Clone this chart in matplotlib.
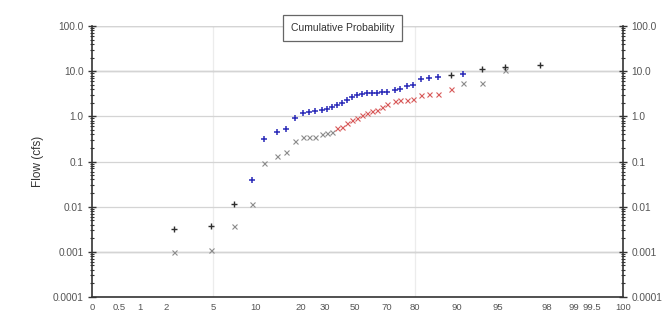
import numpy as np
import matplotlib
matplotlib.use("Agg")
import matplotlib.pyplot as plt
from matplotlib.ticker import FixedLocator, FixedFormatter, LogLocator, NullFormatter

plt.rcParams["font.family"] = ["Liberation Sans", "DejaVu Sans"]

# cumulative probability (%) tick labels and the spacing used by the original axis
tick_pct = [0, 0.5, 1, 2, 5, 10, 20, 30, 50, 70, 80, 90, 95, 98, 99, 99.5, 100]
tick_labels = ["0", "0.5", "1", "2", "5", "10", "20", "30", "50", "70",
               "80", "90", "95", "98", "99", "99.5", "100"]
scale_pos = [92, 119, 140, 166, 213, 256, 301, 325, 355, 387,
             415, 457, 498, 547, 574, 592, 623]

y_ticks = [0.0001, 0.001, 0.01, 0.1, 1, 10, 100]
y_labels = ["0.0001", "0.001", "0.01", "0.1", "1.0", "10.0", "100.0"]

# exceedance percentiles
pct = [2.5, 4.9, 7.4, 9.5, 11.8, 14.7, 16.7, 18.7, 20.8, 23.3,
       25.8, 28.8, 31.3, 34.7, 38.0, 41.3, 44.7, 48.0, 51.3, 54.4,
       57.5, 60.6, 63.8, 66.9, 70.0, 72.9, 74.6, 77.1, 79.3, 81.4,
       83.3, 85.5, 88.6, 90.7, 93.0, 95.4, 97.6]

# upper series (+)
flow_plus = [0.0032, 0.0038, 0.0115, 0.039, 0.31, 0.45, 0.52, 0.92, 1.2, 1.25,
             1.3, 1.4, 1.46, 1.6, 1.8, 1.97, 2.3, 2.7, 3.0, 3.1,
             3.3, 3.3, 3.3, 3.45, 3.45, 3.8, 4.0, 4.7, 4.9, 6.7,
             7.0, 7.4, 8.2, 8.6, 11.1, 12.4, 14.0]
plus_dark = [0, 1, 2, 32, 34, 35, 36]

# lower series (x)
flow_x = [0.001, 0.0011, 0.0038, 0.0115, 0.093, 0.133, 0.16, 0.29, 0.35, 0.35,
          0.35, 0.40, 0.43, 0.45, 0.55, 0.58, 0.72, 0.83, 0.93, 1.07,
          1.19, 1.32, 1.39, 1.6, 1.87, 2.2, 2.3, 2.3, 2.4, 3.0,
          3.1, 3.1, 4.0, 5.5, 5.5, 10.5]
x_red = list(range(14, 33))
faint_lines = [5, 80]


def forward(p):
    return np.interp(p, tick_pct, scale_pos)


def inverse(v):
    return np.interp(v, scale_pos, tick_pct)


fig = plt.figure(figsize=(6.62, 3.24), dpi=100)
ax = fig.add_axes([92 / 662, 27 / 324, 531 / 662, 271 / 324])
ax.set_xscale("function", functions=(forward, inverse))
ax.set_yscale("log")
ax.set_xlim(0, 100)
ax.set_ylim(0.0001, 100)

# grid
ax.grid(True, axis="y", which="major", color="#d4d4d4", linewidth=0.9)
for v in [100, 10, 0.001]:
    ax.axhline(v, color="#9a9a9a", linewidth=0.9, zorder=1)
for p in faint_lines:
    ax.axvline(p, color="#ececec", linewidth=0.9, zorder=0)

pct_a = np.array(pct)
fp = np.array(flow_plus)
fx = np.array(flow_x)
pct_x = pct_a[:len(fx)]

plus_mask = np.zeros(len(fp), bool)
plus_mask[plus_dark] = True
red_mask = np.zeros(len(fx), bool)
red_mask[x_red] = True

ax.plot(pct_x[~red_mask], fx[~red_mask], "x", color="#8c8c8c", ms=3.6, mew=0.8, zorder=3)
ax.plot(pct_x[red_mask], fx[red_mask], "x", color="#d85a5a", ms=3.6, mew=0.8, zorder=3)
ax.plot(pct_a[~plus_mask], fp[~plus_mask], "+", color="#2a2ab8", ms=5, mew=1.1, zorder=4)
ax.plot(pct_a[plus_mask], fp[plus_mask], "+", color="#2e2e2e", ms=5, mew=1.0, zorder=4)

# x axis
ax.xaxis.set_major_locator(FixedLocator(tick_pct))
ax.xaxis.set_major_formatter(FixedFormatter(tick_labels))
ax.xaxis.set_minor_locator(FixedLocator([]))
ax.tick_params(axis="x", length=0, pad=4, labelsize=6.8, labelcolor="#555555")

# y axis
ax.yaxis.set_major_locator(FixedLocator(y_ticks))
ax.yaxis.set_major_formatter(FixedFormatter(y_labels))
ax.yaxis.set_minor_locator(LogLocator(base=10, subs=np.arange(2, 10), numticks=20))
ax.yaxis.set_minor_formatter(NullFormatter())
ax.tick_params(axis="y", which="both", left=True, right=True,
               labelleft=True, labelright=True, direction="inout",
               labelsize=7.3, labelcolor="#555555", color="#333333")
ax.tick_params(axis="y", which="major", length=6, width=1.0, pad=3)
ax.tick_params(axis="y", which="minor", length=3, width=0.8)

for side in ["left", "right", "bottom"]:
    ax.spines[side].set_color("#333333")
    ax.spines[side].set_linewidth(1.2)
ax.spines["top"].set_visible(False)

ax.set_ylabel("Flow (cfs)", fontsize=8.5, color="#333333", labelpad=6)

ax.text(0.472, 0.993, "Cumulative Probability", transform=ax.transAxes,
        ha="center", va="center", fontsize=7.5, color="#333333", zorder=5,
        bbox=dict(boxstyle="square,pad=0.75", facecolor="white",
                  edgecolor="#666666", linewidth=0.9))

fig.savefig("out.png", dpi=100)
